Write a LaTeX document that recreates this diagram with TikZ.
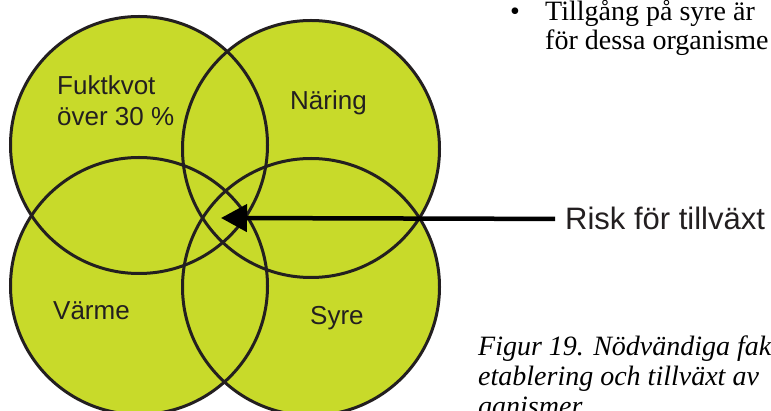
\documentclass[tikz,border=0pt]{standalone}
\usepackage{fontspec}
\setmainfont{Liberation Serif}
\newfontfamily\arialfont{Liberation Sans}
\usetikzlibrary{positioning,arrows.meta}
\definecolor{limegreen}{HTML}{C8DA2A}
\definecolor{inkblack}{HTML}{231F20}

\begin{document}
\begin{tikzpicture}[x=1pt,y=-1pt,
    factorlabel/.style={anchor=base west,inner sep=0pt,text=inkblack,align=left,
      font=\arialfont\fontsize{26}{31}\selectfont},
    bodytext/.style={anchor=base west,inner sep=0pt,align=left,
      font=\fontsize{28}{29}\selectfont}]

    \useasboundingbox (0,0) rectangle (771,411);
    \clip (0,0) rectangle (771,411); %page edge cuts the text

    \coordinate (fukt) at (139,145);
    \coordinate (naring) at (311,149);
    \coordinate (varme) at (139,286);
    \coordinate (syre) at (311,287);

    \foreach \c in {fukt,naring,varme,syre}
      \fill[limegreen] (\c) circle[radius=128.5pt];
    \foreach \c in {fukt,naring,varme,syre}
      \draw[inkblack, line width=3pt] (\c) circle[radius=128.5pt]; %outlines on top

    % base of a multi-line node is its last line
    \node[factorlabel] (fukttext) at (57,126) {Fuktkvot\\över 30 \%};
    \node[factorlabel] (naringtext) at (290,110) {Näring};
    \node[factorlabel] (varmetext) at (53,320) {Värme};
    \node[factorlabel] (syretext) at (310,325) {Syre};

    \node[anchor=base west,inner ysep=0pt,inner xsep=10pt,text=inkblack,
      font=\arialfont\fontsize{31}{37}\selectfont] (risk) at (555,230) {Risk för tillväxt};
    \coordinate (tip) at (221,218);
    \draw[line width=4.5pt,-{Triangle[length=26pt,width=27pt]}] (risk.west) -- (tip);

    \node[bodytext] (bullet) at (510,21) {\textbullet};
    \node[bodytext] (note) at (545,50) {Tillgång på syre är\\för dessa organisme};

    \node[bodytext,font=\itshape\fontsize{28}{30}\selectfont] (caption) at (478,415)
      {Figur 19. Nödvändiga fak\\etablering och tillväxt av\\ganismer.};
  \end{tikzpicture}
\end{document}
